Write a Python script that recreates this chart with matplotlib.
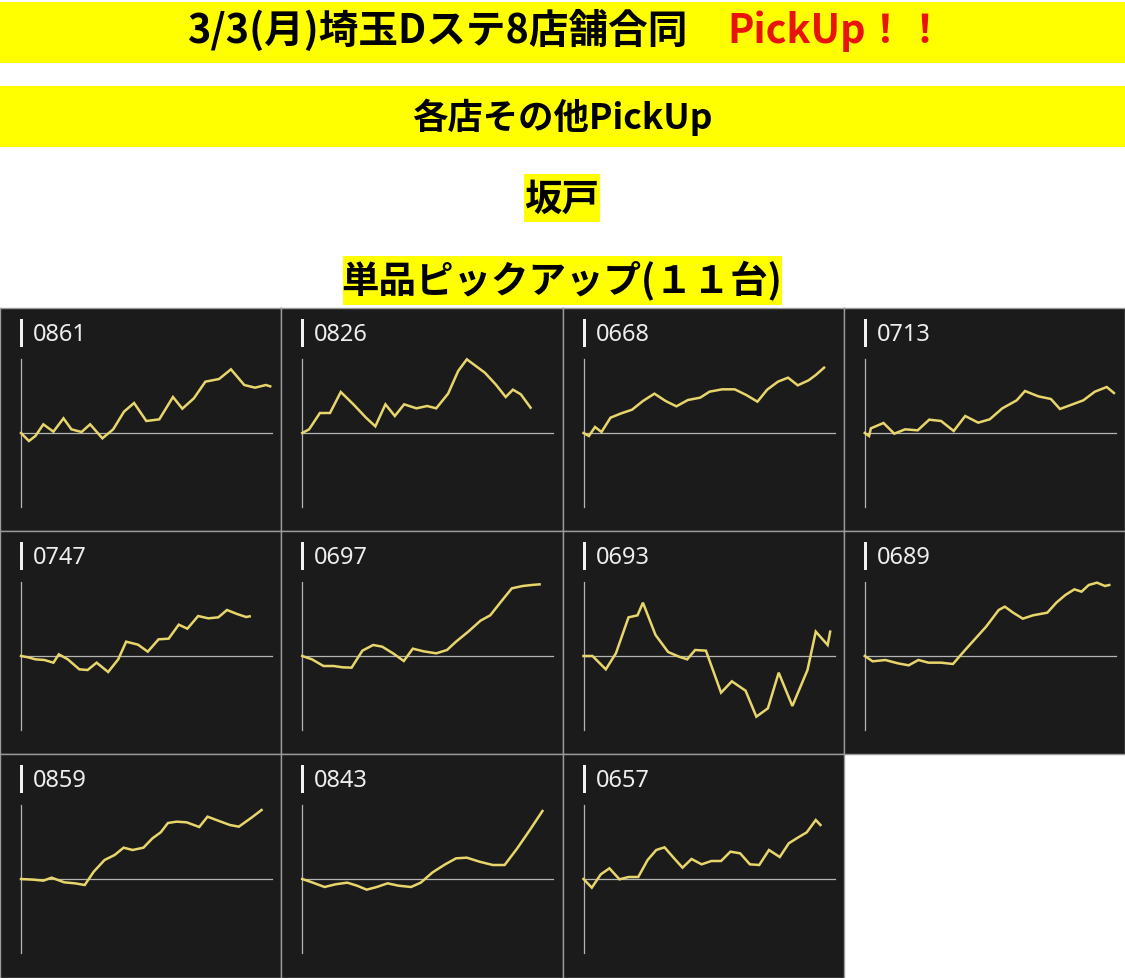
import matplotlib
matplotlib.use('Agg')
import matplotlib.pyplot as plt
from matplotlib.patches import Rectangle

plt.rcParams['font.family'] = ['Noto Sans CJK JP', 'DejaVu Sans']

W, H = 1125, 979

# slump graph data: games played (x) vs coin difference (y)
machines = ['0861', '0826', '0668', '0713',
            '0747', '0697', '0693', '0689',
            '0859', '0843', '0657']

x_0861 = [0, 220, 400, 620, 900, 1180, 1400, 1680, 1920, 2260, 2560, 2860, 3140, 3480, 3840, 4220, 4480, 4800, 5120, 5500, 5830, 6200, 6500, 6800, 6920]
y_0861 = [0, -480, -180, 520, 80, 880, 220, 60, 520, -320, 220, 1280, 1800, 720, 820, 2160, 1460, 2080, 3080, 3240, 3820, 2880, 2720, 2880, 2800]

x_0826 = [0, 190, 490, 770, 1070, 1420, 1770, 2030, 2310, 2570, 2830, 3170, 3470, 3720, 4050, 4330, 4570, 5070, 5370, 5650, 5850, 6070, 6340]
y_0826 = [0, 220, 1200, 1200, 2460, 1720, 920, 400, 1720, 1020, 1720, 1480, 1620, 1480, 2360, 3720, 4420, 3620, 2920, 2160, 2600, 2320, 1520]

x_0668 = [0, 150, 320, 500, 750, 1050, 1350, 1650, 1970, 2280, 2580, 2900, 3240, 3500, 3850, 4200, 4520, 4830, 5100, 5400, 5680, 5950, 6250, 6450, 6680]
y_0668 = [0, -180, 360, 60, 920, 1180, 1400, 1920, 2360, 1920, 1600, 1980, 2120, 2480, 2620, 2620, 2280, 1880, 2600, 3080, 3320, 2860, 3160, 3480, 3920]

x_0713 = [0, 120, 170, 520, 820, 1120, 1470, 1790, 2120, 2470, 2790, 3150, 3470, 3820, 4220, 4450, 4820, 5170, 5420, 5720, 6070, 6390, 6720, 6920]
y_0713 = [0, -180, 280, 600, -40, 220, 160, 800, 720, 120, 1020, 620, 820, 1480, 1960, 2520, 2200, 2040, 1440, 1680, 1960, 2480, 2760, 2400]

x_0747 = [0, 200, 400, 650, 900, 1050, 1300, 1620, 1850, 2100, 2420, 2700, 2920, 3250, 3520, 3820, 4100, 4380, 4620, 4920, 5200, 5480, 5720, 6000, 6250, 6350]
y_0747 = [0, -80, -200, -240, -400, 100, -200, -800, -840, -400, -960, -200, 860, 680, 260, 1000, 1040, 1880, 1640, 2400, 2260, 2320, 2760, 2520, 2340, 2380]

x_0697 = [0, 270, 590, 870, 1120, 1370, 1670, 1970, 2220, 2520, 2820, 3070, 3370, 3720, 4020, 4270, 4620, 4950, 5220, 5520, 5820, 6120, 6370, 6590]
y_0697 = [0, -200, -600, -600, -680, -700, 320, 660, 560, 160, -300, 440, 280, 160, 360, 860, 1480, 2120, 2440, 3260, 4060, 4200, 4260, 4300]

x_0693 = [0, 250, 620, 900, 1250, 1500, 1650, 2000, 2350, 2650, 2880, 3100, 3400, 3820, 4120, 4500, 4800, 5120, 5420, 5800, 6220, 6450, 6780, 6850]
y_0693 = [0, 0, -800, 160, 2320, 2440, 3200, 1260, 240, -40, -200, 360, 320, -2200, -1520, -2080, -3640, -3140, -1000, -3000, -840, 1460, 660, 1460]

x_0689 = [0, 220, 570, 920, 1220, 1490, 1770, 2120, 2450, 2770, 3070, 3370, 3720, 3890, 4120, 4390, 4670, 5070, 5320, 5570, 5820, 6020, 6220, 6450, 6670, 6790]
y_0689 = [0, -320, -240, -440, -560, -240, -400, -400, -480, 320, 1040, 1760, 2760, 2960, 2600, 2240, 2440, 2600, 3200, 3660, 4000, 3860, 4260, 4400, 4200, 4260]

x_0859 = [0, 350, 620, 850, 1200, 1500, 1770, 2020, 2320, 2600, 2850, 3100, 3400, 3650, 3880, 4080, 4320, 4600, 4950, 5180, 5500, 5800, 6050, 6400, 6680]
y_0859 = [0, -40, -100, 80, -200, -260, -360, 440, 1140, 1440, 1880, 1740, 1880, 2440, 2800, 3360, 3440, 3400, 3120, 3740, 3480, 3240, 3140, 3680, 4140]

x_0843 = [0, 270, 620, 920, 1250, 1520, 1790, 2070, 2370, 2670, 3020, 3290, 3620, 3970, 4270, 4570, 4920, 5290, 5620, 5970, 6320, 6670]
y_0843 = [0, -200, -480, -320, -220, -400, -640, -480, -260, -400, -480, -220, 400, 880, 1240, 1280, 1040, 840, 840, 1840, 2940, 4080]

x_0657 = [0, 230, 480, 720, 1000, 1250, 1520, 1780, 2020, 2250, 2500, 2750, 3000, 3280, 3550, 3820, 4080, 4350, 4620, 4880, 5150, 5450, 5700, 5950, 6200, 6450, 6580]
y_0657 = [0, -520, 280, 640, -20, 120, 120, 1140, 1740, 1900, 1280, 680, 1200, 880, 1080, 1080, 1640, 1540, 880, 840, 1740, 1320, 2140, 2480, 2800, 3540, 3240]

xs = [x_0861, x_0826, x_0668, x_0713, x_0747, x_0697, x_0693, x_0689, x_0859, x_0843, x_0657]
ys = [y_0861, y_0826, y_0668, y_0713, y_0747, y_0697, y_0693, y_0689, y_0859, y_0843, y_0657]

X_MAX = 6970
Y_MAX = 4440

fig = plt.figure(figsize=(W / 100, H / 100), dpi=100)
fig.patch.set_facecolor('white')


def rect(left, top, width, height):
    # pixel box (from top-left) -> figure fraction
    return [left / W, 1 - (top + height) / H, width / W, height / H]


def band(left, top, width, height, color='#ffff00'):
    r = rect(left, top, width, height)
    fig.patches.append(Rectangle((r[0], r[1]), r[2], r[3], transform=fig.transFigure,
                                 facecolor=color, edgecolor='none', zorder=0))


# header
band(0, 3, W, 61)
fig.text(187 / W, 1 - 31 / H, '3/3(月)埼玉Dステ8店舗合同', fontsize=28.5,
         fontweight='bold', color='black', ha='left', va='center')
fig.text(727 / W, 1 - 31 / H, 'PickUp！！', fontsize=28.5,
         fontweight='bold', color='#e8140c', ha='left', va='center')

band(0, 87, W, 61)
fig.text(0.5, 1 - 117 / H, '各店その他PickUp', fontsize=25.5,
         fontweight='bold', color='black', ha='center', va='center')

band(524, 175, 76, 48)
fig.text(562 / W, 1 - 199 / H, '坂戸', fontsize=27,
         fontweight='bold', color='black', ha='center', va='center')

band(343, 257, 439, 49)
fig.text(562 / W, 1 - 281 / H, '単品ピックアップ(１１台)', fontsize=27,
         fontweight='bold', color='black', ha='center', va='center')

# grid of slump graphs
col_w = W / 4
row_h = 223
grid_top = 309

for i, name in enumerate(machines):
    row, col = divmod(i, 4)
    left = col * col_w
    top = grid_top + row * row_h
    h = row_h if row < 2 else H - top

    outer = fig.add_axes(rect(left, top, col_w, h))
    outer.set_facecolor('#1b1b1b')
    outer.set_xticks([])
    outer.set_yticks([])
    for sp in outer.spines.values():
        sp.set_color('#9a9a9a')
        sp.set_linewidth(1.0)
    outer.set_xlim(0, col_w)
    outer.set_ylim(h, 0)
    outer.add_patch(Rectangle((20, 11), 3, 28, facecolor='#f2f2f2', edgecolor='none'))
    outer.text(33, 26, name, fontsize=17, color='#eeeeee', ha='left', va='center',
               family=['Noto Sans', 'DejaVu Sans'])

    ax = fig.add_axes(rect(left + 21, top + 51, 251, 148))
    ax.patch.set_alpha(0)
    ax.set_xlim(0, X_MAX)
    ax.set_ylim(-Y_MAX, Y_MAX)
    ax.axis('off')
    ax.axhline(0, color='#b4b4b4', lw=0.9, clip_on=False)
    ax.axvline(0, color='#b4b4b4', lw=0.9, clip_on=False)
    ax.plot(xs[i], ys[i], color='#e8d66c', lw=1.8, solid_joinstyle='miter', clip_on=False)

fig.savefig('out.png', dpi=100, facecolor='white')
